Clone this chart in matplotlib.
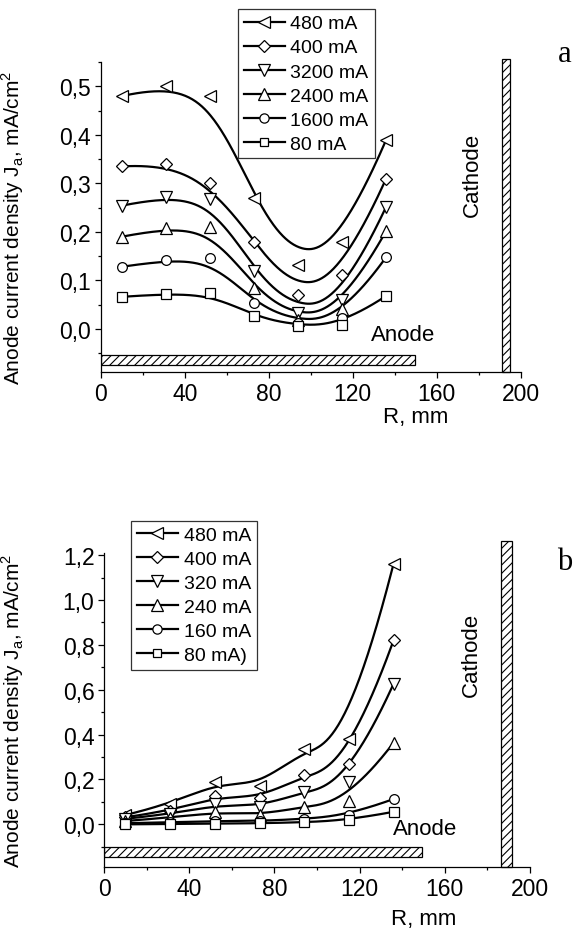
import numpy as np
import matplotlib
matplotlib.use("Agg")
import matplotlib.pyplot as plt
from matplotlib.patches import Rectangle
from matplotlib.ticker import MultipleLocator, FuncFormatter

plt.rcParams['font.family'] = ['Liberation Sans', 'DejaVu Sans']
plt.rcParams['hatch.linewidth'] = 0.8

# Radius of the measurement points, mm
r_mm = [10, 31, 52, 73, 94, 115, 136]

# Panel a: anode current density, mA/cm2
labels_a = ["480 mA", "400 mA", "3200 mA", "2400 mA", "1600 mA", "80 mA"]
ja_480_a = [0.480, 0.500, 0.480, 0.270, 0.131, 0.180, 0.390]
ja_400_a = [0.335, 0.340, 0.300, 0.180, 0.069, 0.110, 0.310]
ja_320_a = [0.254, 0.272, 0.268, 0.120, 0.032, 0.059, 0.252]
ja_240_a = [0.190, 0.207, 0.209, 0.084, 0.018, 0.041, 0.202]
ja_160_a = [0.128, 0.141, 0.146, 0.053, 0.012, 0.022, 0.148]
ja_80_a = [0.066, 0.072, 0.073, 0.026, 0.005, 0.008, 0.068]

# Panel b
labels_b = ["480 mA", "400 mA", "320 mA", "240 mA", "160 mA", "80 mA)"]
ja_480_b = [0.042, 0.089, 0.190, 0.170, 0.338, 0.382, 1.163]
ja_400_b = [0.032, 0.059, 0.127, 0.116, 0.219, 0.271, 0.821]
ja_320_b = [0.025, 0.045, 0.089, 0.079, 0.145, 0.190, 0.627]
ja_240_b = [0.015, 0.030, 0.056, 0.042, 0.079, 0.104, 0.364]
ja_160_b = [0.005, 0.009, 0.015, 0.015, 0.024, 0.041, 0.113]
ja_80_b = [0.000, 0.002, 0.003, 0.005, 0.009, 0.019, 0.056]

markers = ['<', 'D', 'v', '^', 'o', 's']
msizes = [8.5, 6.3, 8.5, 8.5, 7, 6.5]


def bspline(px, py, k=3, n=300):
    # clamped cubic B-spline using the points as control points
    px = np.asarray(px, float)
    py = np.asarray(py, float)
    m = len(px)
    t = np.concatenate([np.zeros(k + 1), np.arange(1, m - k), np.full(k + 1, m - k)])
    u = np.linspace(0, m - k, n)
    N = np.zeros((len(t) - 1, n))
    for i in range(len(t) - 1):
        N[i] = (t[i] <= u) & (u < t[i + 1])
    N[m - 1, -1] = 1.0
    for p in range(1, k + 1):
        Nn = np.zeros((len(t) - 1 - p, n))
        for i in range(len(t) - 1 - p):
            a = 0.0
            d1 = t[i + p] - t[i]
            if d1 > 0:
                a = (u - t[i]) / d1 * N[i]
            b = 0.0
            d2 = t[i + p + 1] - t[i + 1]
            if d2 > 0:
                b = (t[i + p + 1] - u) / d2 * N[i + 1]
            Nn[i] = a + b
        N = Nn
    return px @ N, py @ N


comma = FuncFormatter(lambda v, pos: f"{v:.1f}".replace('.', ','))

fig = plt.figure(figsize=(5.79, 9.29), dpi=100)


def panel(rect, series, labels, ylim, ymaj, ymin_step, anode, cathode,
          cathode_text_y, anode_xy, letter, letter_y, leg_box, xlab_y):
    ax = fig.add_axes(rect)
    for ys, mk, ms, lab in zip(series, markers, msizes, labels):
        sx, sy = bspline(r_mm, ys)
        ax.plot(sx, sy, color='black', lw=1.6, zorder=2)
        ax.plot(r_mm, ys, ls='none', marker=mk, ms=ms, mfc='white',
                mec='black', mew=0.9, zorder=3)
        ax.plot([], [], color='black', lw=1.6, marker=mk, ms=ms * 0.95,
                mfc='white', mec='black', mew=0.9, label=lab)
    ax.add_patch(Rectangle((0, anode[0]), 149.5, anode[1] - anode[0],
                           facecolor='white', edgecolor='black', lw=0.9,
                           hatch='////', zorder=1))
    ax.add_patch(Rectangle((cathode[0], ylim[0]), cathode[1] - cathode[0],
                           cathode[2] - ylim[0], facecolor='white',
                           edgecolor='black', lw=0.9, hatch='////',
                           clip_on=False, zorder=1))
    ax.text(cathode[0] - 14, cathode_text_y, "Cathode", rotation=90,
            ha='center', va='center', fontsize=16)
    ax.text(anode_xy[0], anode_xy[1], "Anode", ha='center', va='center',
            fontsize=16)
    ax.set_xlim(0, 200)
    ax.set_ylim(*ylim)
    ax.xaxis.set_major_locator(MultipleLocator(40))
    ax.xaxis.set_minor_locator(MultipleLocator(20))
    ax.yaxis.set_major_locator(MultipleLocator(ymaj))
    ax.yaxis.set_minor_locator(MultipleLocator(ymin_step))
    ax.yaxis.set_major_formatter(comma)
    ax.set_yticks([v for v in np.arange(0, ylim[1] + 1e-9, ymaj)])
    for s in ['top', 'right']:
        ax.spines[s].set_visible(False)
    for s in ['left', 'bottom']:
        ax.spines[s].set_linewidth(0.9)
    ax.tick_params(which='major', direction='out', length=4.5, width=0.9,
                   labelsize=16.5, pad=2.5)
    ax.tick_params(which='minor', direction='out', length=2.5, width=0.9)
    ax.set_xlabel("R, mm", fontsize=16)
    ax.xaxis.set_label_coords(0.75, xlab_y)
    ax.set_ylabel(r"Anode current density J$_\mathregular{a}$, mA/cm$^\mathregular{2}$",
                  fontsize=15)
    fig.text(0.975, letter_y, letter, fontsize=22,
             family='Liberation Serif', ha='center', va='center')
    leg = ax.legend(loc='upper left', bbox_to_anchor=leg_box,
                    bbox_transform=fig.transFigure, fontsize=14,
                    frameon=True, fancybox=False, handlelength=2.1,
                    handletextpad=0.3, labelspacing=0.33, borderpad=0.3,
                    borderaxespad=0.0)
    leg.get_frame().set_edgecolor('black')
    leg.get_frame().set_linewidth(0.9)
    return ax


ax_a = panel([0.174, 0.598, 0.725, 0.334],
             [ja_480_a, ja_400_a, ja_320_a, ja_240_a, ja_160_a, ja_80_a],
             labels_a, (-0.09, 0.55), 0.1, 0.05, (-0.0755, -0.054),
             (191, 195.2, 0.557), 0.32, (144, -0.012), 'a', 0.941,
             (238 / 579, 1 - 10 / 929), -0.108)
ax_a.yaxis.set_label_coords(-0.178, 0.47)

ax_b = panel([0.180, 0.0657, 0.735, 0.338],
             [ja_480_b, ja_400_b, ja_320_b, ja_240_b, ja_160_b, ja_80_b],
             labels_b, (-0.19, 1.21), 0.2, 0.1, (-0.144, -0.099),
             (186.4, 191.5, 1.262), 0.76, (151, -0.018), 'b', 1 - 562 / 929,
             (131 / 579, 1 - 521.7 / 929), -0.132)
ax_b.yaxis.set_label_coords(-0.184, 0.5)

fig.savefig('out.png', dpi=100)
